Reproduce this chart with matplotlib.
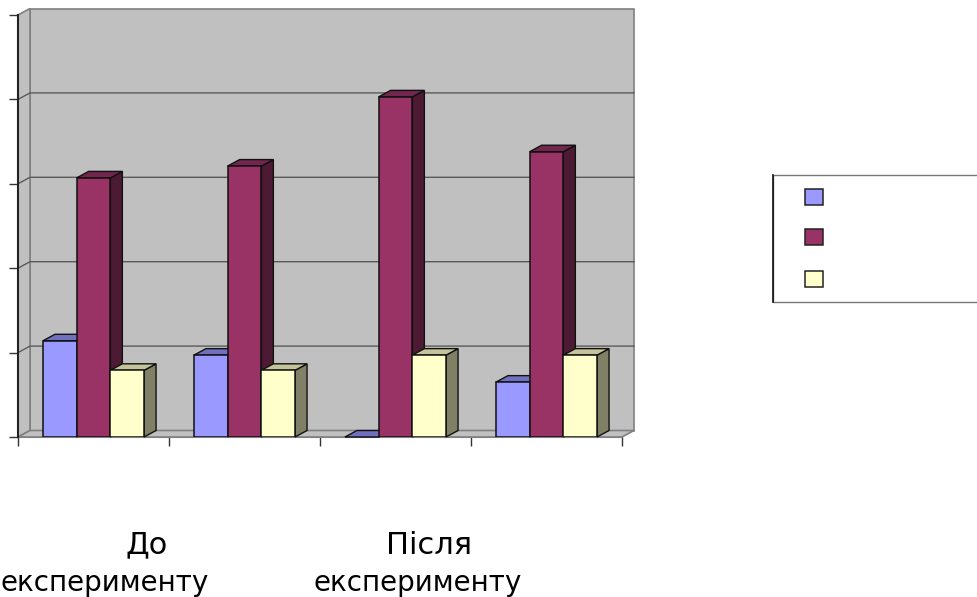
import matplotlib
matplotlib.use("Agg")
import matplotlib.pyplot as plt
from matplotlib.patches import Polygon, Rectangle

W, H = 977, 597

categories = [0, 1, 2, 3]
series_a = [11.4, 9.7, 0.0, 6.5]
series_b = [30.7, 32.1, 40.3, 33.8]
series_c = [7.9, 7.9, 9.7, 9.7]
y_ticks = [0, 10, 20, 30, 40, 50]

front_colors = ["#9999ff", "#993366", "#ffffcc"]
top_colors = ["#7070c0", "#73264d", "#c4c49a"]
side_colors = ["#5c5c99", "#4d1a33", "#808066"]

fig = plt.figure(figsize=(W / 100, H / 100), dpi=100)
# plot box in pixels: x 18..622, y 437..15
ax = fig.add_axes([18 / W, 1 - 437 / H, 604 / W, 422 / H])
ax.set_xlim(-0.5, 3.5)
ax.set_ylim(0, 50)
ax.patch.set_visible(False)

# depth of the fake 3d effect, in data units
dx = 12 / 151
dy = 6.5 / 8.44


def poly(points, color, edge="#111111", lw=1.0, z=1):
    ax.add_patch(Polygon(points, closed=True, facecolor=color, edgecolor=edge,
                         linewidth=lw, zorder=z, clip_on=False))


# walls and floor
x0, x1 = -0.5, 3.5
poly([(x0 + dx, dy), (x1 + dx, dy), (x1 + dx, 50 + dy), (x0 + dx, 50 + dy)], "#c0c0c0", "#808080", 1.2, 1)
poly([(x0, 0), (x0 + dx, dy), (x0 + dx, 50 + dy), (x0, 50)], "#c0c0c0", "#808080", 1.2, 1)
poly([(x0, 0), (x1, 0), (x1 + dx, dy), (x0 + dx, dy)], "#c0c0c0", "#808080", 1.2, 1)

# gridlines along the back and side walls
for v in y_ticks[1:-1]:
    ax.plot([x0, x0 + dx, x1 + dx], [v, v + dy, v + dy], color="#5a5a5a", lw=1.0, zorder=2, clip_on=False)

# bars
width = 33.7 / 151
all_series = [series_a, series_b, series_c]
z = 3
for i, c in enumerate(categories):
    for j, vals in enumerate(all_series):
        v = vals[i]
        left = c + (j - 1.5) * width
        right = left + width
        poly([(right, 0), (right + dx, dy), (right + dx, v + dy), (right, v)], side_colors[j], z=z)
        poly([(left, v), (right, v), (right + dx, v + dy), (left + dx, v + dy)], top_colors[j], z=z)
        if v > 0:
            ax.bar(left, v, width=width, align="edge", color=front_colors[j],
                   edgecolor="#111111", linewidth=1.1, zorder=z + 0.5)
        z += 1

# axes lines and ticks, no tick labels
ax.set_xticks([-0.5, 0.5, 1.5, 2.5, 3.5])
ax.set_yticks(y_ticks)
ax.set_xticklabels([])
ax.set_yticklabels([])
ax.tick_params(axis="both", direction="out", color="#333333", width=1.0, length=6.5)
for name in ["top", "right"]:
    ax.spines[name].set_visible(False)
ax.spines["left"].set_color("#222222")
ax.spines["left"].set_linewidth(1.5)
ax.spines["left"].set_zorder(50)
ax.spines["bottom"].set_color("#808080")
ax.spines["bottom"].set_zorder(2)

# category labels, placed by hand
labels = [("До", 147, 545, 22), ("експерименту", 105, 583, 20),
          ("Після", 429, 545, 22), ("експерименту", 418, 583, 20)]
for txt, px, py, size in labels:
    fig.text(px / W, 1 - py / H, txt, ha="center", va="center", fontsize=size,
             family="DejaVu Sans", color="black")

# legend box runs off the right edge
fig.add_artist(Rectangle((773 / W, 1 - 302 / H), 300 / W, 127 / H, transform=fig.transFigure,
                         facecolor="white", edgecolor="#777777", linewidth=1.0))
fig.add_artist(plt.Line2D([773 / W, 773 / W], [1 - 302 / H, 1 - 175 / H], color="#111111", linewidth=1.2))
for py, col in zip([197, 237, 279], front_colors):
    fig.add_artist(Rectangle((805 / W, 1 - (py + 8) / H), 18 / W, 16 / H, transform=fig.transFigure,
                             facecolor=col, edgecolor="#222222", linewidth=1.1))

fig.savefig("out.png", dpi=100)
